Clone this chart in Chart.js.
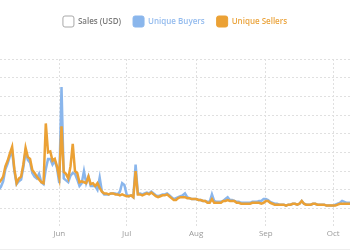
<!DOCTYPE html>
<html>
<head>
<meta charset="utf-8">
<script src="https://cdn.jsdelivr.net/npm/chart.js@4.4.1/dist/chart.umd.min.js"></script>
<style>
  html, body { margin: 0; padding: 0; background: #fff; }
  #wrap { width: 350px; height: 249px; border-bottom: 1px solid #eeeeee; }
</style>
</head>
<body>
<div id="wrap"><canvas id="chart" width="350" height="249"></canvas></div>
<script>
// daily values, first entry is day 4 (counting May 1 as day 0)
var startDay = 4;

var buyers = [20,23,29,42,48,56,61,40,26,29,
    31,44,61,52,49,38,34,32,37,28,
    26,42,53,53,47,51,43,27,130,32,
    30,28,35,38,37,31,24,27,40,27,
    34,24,24,24,20,33,18,15,15,15,
    16,16,16,15,18,27,25,15,13,14,
    12,47,16,16,15,16,17,16,18,16,
    14,13,14,15,15,16,14,12,10,11,
    12,13,14,16,12,11,10,10,10,9,
    9,8,8,7,7,15,8,7,7,7,
    8,10,12,9,9,8,7,7,6,6,
    6,6,6,7,7,7,8,8,10,10,
    9,7,6,5,5,4,4,4,3,4,
    4,5,5,4,5,8,5,4,4,4,
    5,5,4,4,4,4,3,3,3,3,
    4,5,6,8,7,6,6,6];

var sellers = [27,30,34,45,51,59,66,42,27,32,
    34,47,65,55,53,41,38,34,31,28,
    27,91,60,61,51,53,45,33,88,39,
    37,32,45,69,40,38,28,29,28,27,
    34,26,27,24,27,22,18,16,16,15,
    16,16,15,15,14,15,14,13,13,14,
    12,40,15,15,14,15,16,15,17,15,
    13,12,13,14,14,15,13,11,9,9,
    11,12,12,12,11,11,10,10,10,9,
    9,8,8,6,6,10,6,6,6,6,
    8,8,9,8,8,8,6,6,5,5,
    5,5,5,6,6,6,6,5,6,8,
    8,6,5,4,4,4,4,4,3,4,
    4,5,5,4,5,8,5,4,4,4,
    5,5,4,4,4,4,3,3,3,3,
    3,4,5,5,5,5,5,5];

var sales = [];

var monthTicks = [31, 61, 92, 123, 153];
var monthLabels = ["Jun", "Jul", "Aug", "Sep", "Oct"];

var blue = "#8ab6ec";
var orange = "#eba135";

function toPoints(arr) {
    return arr.map(function (v, i) { return { x: startDay + i, y: v }; });
}

var legendColors = ["#7a7a7a", "#93bbee", "#eba53f"];

// push the plot down below the legend
var legendGap = {
    id: "legendGap",
    beforeInit: function (chart) {
        var fit = chart.legend.fit;
        chart.legend.fit = function () {
            fit.bind(chart.legend)();
            this.height += 22;
        };
    }
};

var ctx = document.getElementById("chart");
var chart = new Chart(ctx, {
    type: "line",
    plugins: [legendGap],
    data: {
        datasets: [{
            label: "Sales (USD)",
            data: sales,
            borderColor: "#a8a8a8",
            backgroundColor: "#ffffff",
            borderWidth: 1
        }, {
            label: "Unique Buyers",
            data: toPoints(buyers),
            borderColor: blue,
            backgroundColor: blue,
            borderWidth: 2.5,
            order: 2
        }, {
            label: "Unique Sellers",
            data: toPoints(sellers),
            borderColor: orange,
            backgroundColor: orange,
            borderWidth: 2.5,
            order: 1
        }]
    },
    options: {
        responsive: false,
        animation: false,
        layout: { padding: { top: 4, left: 0, right: 0, bottom: 8 } },
        elements: { point: { radius: 0 }, line: { tension: 0 } },
        plugins: {
            tooltip: { enabled: false },
            legend: {
                position: "top",
                labels: {
                    boxWidth: 11,
                    boxHeight: 11,
                    padding: 12,
                    useBorderRadius: true,
                    borderRadius: 2,
                    font: { family: "'Open Sans'", size: 8, weight: "600" },
                    generateLabels: function (c) {
                        return c.data.datasets.map(function (ds, i) {
                            return {
                                text: ds.label,
                                fillStyle: ds.backgroundColor,
                                strokeStyle: i === 0 ? ds.borderColor : ds.backgroundColor,
                                lineWidth: 1,
                                fontColor: legendColors[i],
                                borderRadius: 2,
                                hidden: false,
                                datasetIndex: i
                            };
                        });
                    }
                }
            }
        },
        scales: {
            x: {
                type: "linear",
                min: 4.6,
                max: 160.5,
                afterBuildTicks: function (axis) {
                    axis.ticks = monthTicks.map(function (v) { return { value: v }; });
                },
                ticks: {
                    autoSkip: false,
                    maxRotation: 0,
                    padding: 2,
                    color: "#9a9a9a",
                    font: { family: "'Open Sans'", size: 8 },
                    callback: function (v) {
                        var k = monthTicks.indexOf(v);
                        return k >= 0 ? monthLabels[k] : "";
                    }
                },
                grid: {
                    color: "#e0e0e0",
                    drawTicks: true,
                    tickLength: 19,
                    tickColor: "#e0e0e0",
                    tickBorderDash: [2, 2]
                },
                border: { display: false, dash: [2, 2] }
            },
            y: {
                min: 0,
                max: 160,
                ticks: { display: false, stepSize: 20 },
                grid: {
                    color: "#e0e0e0",
                    drawTicks: false
                },
                border: { display: false, dash: [2, 2] }
            }
        }
    }
});
</script>
</body>
</html>
